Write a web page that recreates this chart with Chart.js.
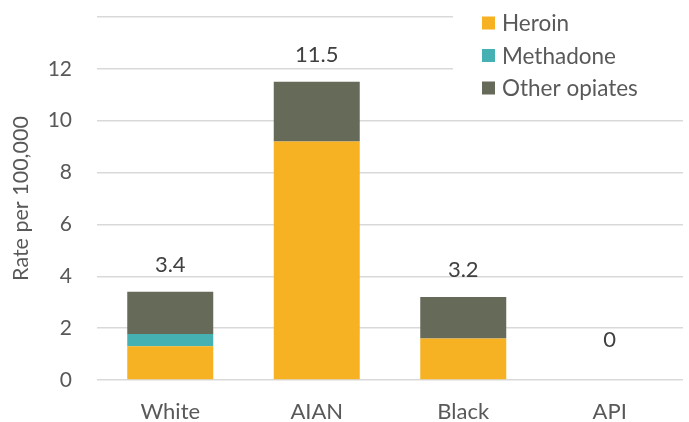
<!DOCTYPE html>
<html>
<head>
<meta charset="utf-8">
<script src="https://cdn.jsdelivr.net/npm/chart.js@4"></script>
<style>
html,body{margin:0;padding:0;background:#fff;}
#wrap{width:689px;height:422px;position:relative;}
</style>
</head>
<body>
<div id="wrap"><canvas id="c" width="689" height="422"></canvas></div>
<script>
const categories = ["White", "AIAN", "Black", "API"];
const heroin = [1.3, 9.2, 1.6, 0];
const methadone = [0.47, 0, 0, 0];
const otherOpiates = [1.63, 2.3, 1.6, 0];
const totalLabels = ["3.4", "11.5", "3.2", "0"];
const yTicks = [0, 2, 4, 6, 8, 10, 12, 14];
const hiddenTicks = [14];

const FONT = "Lato, 'Open Sans', sans-serif";

const totalsPlugin = {
  id: 'totals',
  afterDatasetsDraw(chart) {
    const ctx = chart.ctx;
    const y = chart.scales.y;
    const meta = chart.getDatasetMeta(0);
    ctx.save();
    ctx.fillStyle = '#404040';
    ctx.font = '22px ' + FONT;
    ctx.textAlign = 'center';
    ctx.textBaseline = 'middle';
    categories.forEach((c, i) => {
      const tot = heroin[i] + methadone[i] + otherOpiates[i];
      const px = meta.data[i].x;
      const py = y.getPixelForValue(tot);
      ctx.fillText(totalLabels[i], px, py - (tot === 0 ? 40 : 27));
    });
    ctx.restore();
  }
};

const legendPlugin = {
  id: 'customLegend',
  afterDatasetsDraw(chart) {
    const ctx = chart.ctx;
    ctx.save();
    ctx.fillStyle = '#fff';
    ctx.fillRect(453, 0, 236, 104);
    ctx.font = '22.5px ' + FONT;
    ctx.textAlign = 'left';
    ctx.textBaseline = 'middle';
    chart.data.datasets.forEach((ds, i) => {
      const cy = 23 + i * 32.5;
      ctx.fillStyle = ds.backgroundColor;
      ctx.fillRect(482, cy - 6.5, 13, 13);
      ctx.fillStyle = '#595959';
      ctx.fillText(ds.label, 502, cy + 1);
    });
    ctx.restore();
  }
};

new Chart(document.getElementById('c'), {
  type: 'bar',
  data: {
    labels: categories,
    datasets: [
      { label: 'Heroin', data: heroin, backgroundColor: '#F6B223' },
      { label: 'Methadone', data: methadone, backgroundColor: '#45B1B3' },
      { label: 'Other opiates', data: otherOpiates, backgroundColor: '#666A58' }
    ]
  },
  options: {
    responsive: false,
    animation: false,
    devicePixelRatio: 1,
    layout: { padding: { top: 17, right: 6, left: 0, bottom: 0 } },
    plugins: { legend: { display: false }, tooltip: { enabled: false } },
    datasets: { bar: { categoryPercentage: 1, barPercentage: 0.587, borderWidth: 0 } },
    scales: {
      x: {
        stacked: true,
        grid: { display: false, drawTicks: false },
        border: { display: false },
        ticks: { color: '#595959', font: { family: FONT, size: 22 }, padding: 19 },
        afterFit(s) { s.height = 42; s.paddingLeft = 0; s.paddingRight = 0; }
      },
      y: {
        stacked: true,
        min: 0, max: 14,
        afterBuildTicks(s) { s.ticks = yTicks.map(v => ({ value: v })); },
        grid: { color: '#D9D9D9', lineWidth: 1.5, drawTicks: false },
        border: { display: false },
        ticks: {
          color: '#595959', font: { family: FONT, size: 21 }, padding: 25,
          callback: v => hiddenTicks.includes(v) ? '' : String(v)
        },
        title: { display: true, text: 'Rate per 100,000', color: '#595959', font: { family: FONT, size: 21.5 }, padding: { top: 8, bottom: 0 } },
        afterFit(s) { s.width = 97; s.paddingTop = 0; s.paddingBottom = 0; }
      }
    }
  },
  plugins: [totalsPlugin, legendPlugin]
});
</script>
</body>
</html>
